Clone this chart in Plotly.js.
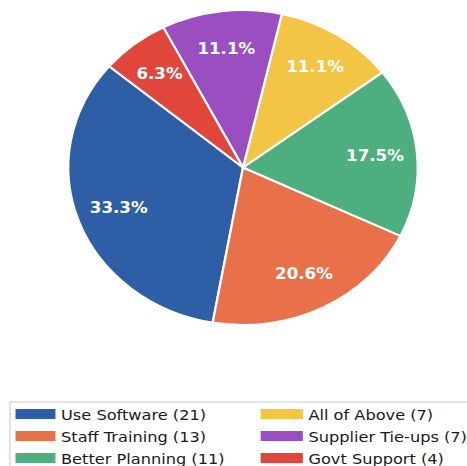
<!DOCTYPE html>
<html><head><meta charset="utf-8">
<script src="https://cdn.plot.ly/plotly-3.0.1.min.js"></script>
<style>
html,body{margin:0;padding:0;background:#fff;overflow:hidden;width:467px;height:466px;}
#chart{width:421px;height:466px;transform:scaleX(1.1093);transform-origin:0 0;}
</style></head><body><div id="chart"></div>
<script>
// ---- data ----
const categories = ['Use Software', 'Staff Training', 'Better Planning', 'All of Above', 'Supplier Tie-ups', 'Govt Support'];
const counts = [21, 13, 11, 7, 7, 4];
const colors = ['#2E5EA5', '#E8714A', '#4CAF7D', '#F2C545', '#9B4EBF', '#E0473A'];
const legendColumn = ['legend', 'legend', 'legend', 'legend2', 'legend2', 'legend2'];

// ---- style / geometry constants ----
const START_ANGLE = 140;      // degrees, counterclockwise from 3 o'clock
const PCT_DISTANCE = 0.76;
const W = 421, H = 466;
const pieX = [0.1462, 0.8945];
const pieY = [0.3026, 0.9785];

const total = counts.reduce((a, b) => a + b, 0);
// Plotly (counterclockwise) measures rotation at the far end of the first slice
const rotation = 90 - START_ANGLE - 360 * counts[0] / total;

const pie = {
  type: 'pie',
  labels: categories,
  values: counts,
  sort: false,
  direction: 'counterclockwise',
  rotation: rotation,
  marker: {colors: colors, line: {color: '#ffffff', width: 2}},
  textinfo: 'none',
  hoverinfo: 'skip',
  showlegend: false,
  automargin: false,
  domain: {x: pieX, y: pieY}
};

const legendTraces = categories.map((c, i) => ({
  type: 'scatter',
  mode: 'lines',
  x: [null], y: [null],
  name: c + ' (' + counts[i] + ')',
  line: {color: colors[i], width: 10},
  legend: legendColumn[i],
  hoverinfo: 'skip',
  showlegend: true
}));

// percentage labels placed along each slice's bisector
const annotations = [];
let cum = 0;
counts.forEach((v, i) => {
  const mid = (START_ANGLE + 360 * (cum + v / 2) / total) * Math.PI / 180;
  cum += v;
  annotations.push({
    xref: 'x', yref: 'y',
    x: PCT_DISTANCE * Math.cos(mid),
    y: PCT_DISTANCE * Math.sin(mid),
    text: '<b>' + (100 * v / total).toFixed(1) + '%</b>',
    showarrow: false,
    xanchor: 'center', yanchor: 'middle',
    font: {family: 'DejaVu Sans', size: 15, color: '#ffffff'}
  });
});

const legendFont = {family: 'DejaVu Sans', size: 14.6, color: '#1a1a1a'};
const legendTop = 1 - 398 / H;
const layout = {
  width: W, height: H,
  margin: {l: 0, r: 0, t: 0, b: 0, autoexpand: false},
  paper_bgcolor: '#ffffff',
  plot_bgcolor: 'rgba(0,0,0,0)',
  hovermode: false,
  showlegend: true,
  xaxis: {domain: pieX, range: [-1, 1], visible: false, fixedrange: true},
  yaxis: {domain: pieY, range: [-1, 1], visible: false, fixedrange: true},
  legend: {x: 9 / W, xanchor: 'left', y: legendTop, yanchor: 'top', orientation: 'v', itemwidth: 36,
           bgcolor: 'rgba(0,0,0,0)', borderwidth: 0, font: legendFont},
  legend2: {x: 230 / W, xanchor: 'left', y: legendTop, yanchor: 'top', orientation: 'v', itemwidth: 38,
            bgcolor: 'rgba(0,0,0,0)', borderwidth: 0, font: legendFont},
  shapes: [{type: 'rect', xref: 'paper', yref: 'paper', x0: 9 / W, x1: 1.05, y0: -0.05, y1: 1 - 402 / H,
            line: {color: '#cccccc', width: 1}, fillcolor: 'rgba(0,0,0,0)', layer: 'below'}],
  annotations: annotations
};

Plotly.newPlot('chart', [pie].concat(legendTraces), layout, {staticPlot: true, displayModeBar: false});
</script></body></html>
